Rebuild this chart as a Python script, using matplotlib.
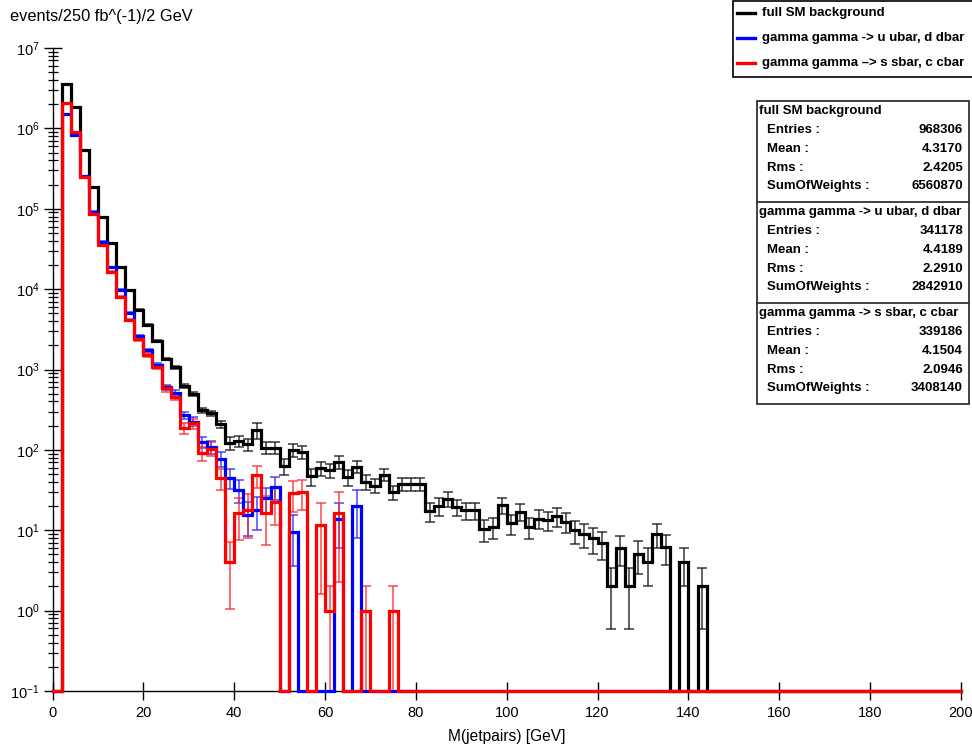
import numpy as np
import matplotlib
matplotlib.use('Agg')
import matplotlib.pyplot as plt
from matplotlib.patches import Rectangle
from matplotlib.lines import Line2D
from matplotlib.ticker import FixedLocator, NullLocator, MultipleLocator, NullFormatter, LogFormatterSciNotation

plt.rcParams['font.family'] = ['Liberation Sans', 'DejaVu Sans']
plt.rcParams['mathtext.fontset'] = 'custom'
plt.rcParams['mathtext.rm'] = 'Liberation Sans'
plt.rcParams['mathtext.it'] = 'Liberation Sans:italic'
plt.rcParams['mathtext.bf'] = 'Liberation Sans:bold'

# ---------------- data (2 GeV bins, first filled bin starts at 2 GeV) ----------------
x_min, x_max, n_bins = 0, 200, 100
first_edge = 2.0

sm_vals = [3.6e6, 1.85e6, 5.4e5, 1.87e5, 7.9e4, 3.7e4, 1.86e4, 9.7e3, 5.5e3, 3.6e3,
           2.25e3, 1.35e3, 1.06e3, 625, 495, 313, 284, 208, 123, 129,
           117, 176, 107, 106, 63, 100, 95, 47, 59, 56,
           71, 46, 62, 40, 36, 49, 29.5, 38, 38, 38,
           17.3, 20, 24.5, 19.6, 17.8, 17.8, 10.3, 11, 20.5, 12.2,
           17, 11, 14, 13.4, 15, 12.8, 10, 9.1, 7.9, 6.9,
           2.0, 6.0, 2.0, 5.1, 4.05, 9.0, 6.2, 0, 4.0, 0,
           2.0]
sm_errs = [3000, 2000, 1000, 600, 400, 250, 180, 120, 90, 70,
           55, 45, 40, 30, 27, 22, 22, 20, 22, 20,
           20, 38, 18, 18, 14, 18, 18, 11, 12, 11,
           13, 10, 11, 8, 7, 8, 6, 7, 7, 7,
           4.5, 5, 5, 4.5, 4.2, 4.2, 3.2, 3.3, 4.5, 3.5,
           4.1, 3.3, 3.7, 3.7, 3.9, 3.6, 3.2, 3.0, 2.8, 2.6,
           1.41, 2.45, 1.41, 2.26, 2.0, 3.0, 2.5, 0, 2.0, 0,
           1.41]

uu_vals = [1.49e6, 8.2e5, 2.57e5, 9.2e4, 3.9e4, 1.86e4, 9.7e3, 5.0e3, 2.6e3, 1.74e3,
           1.15e3, 600, 515, 270, 225, 126, 109, 77, 45, 32,
           15.5, 18, 25, 35, 0, 9.6, 0, 0, 0, 0,
           14, 0, 20]
uu_errs = [2500, 1800, 1000, 600, 400, 280, 200, 140, 100, 80,
           65, 45, 40, 30, 28, 20, 19, 16, 12, 10,
           7, 8, 9, 11, 0, 6, 0, 0, 0, 0,
           8, 0, 12]

ss_vals = [2.04e6, 9.1e5, 2.5e5, 8.7e4, 3.5e4, 1.64e4, 8.0e3, 4.1e3, 2.4e3, 1.5e3,
           1.08e3, 582, 460, 185, 214, 91, 104, 45, 4.05, 16.5,
           18, 48.6, 16.5, 22.6, 0, 28.8, 30, 0, 11.6, 1.0,
           16.3, 0, 0, 1.0, 0, 0, 1.0]
ss_errs = [3000, 2000, 1100, 650, 420, 290, 200, 140, 110, 85,
           70, 50, 45, 28, 30, 18, 20, 13, 3, 9,
           10, 15, 10, 11, 0, 12, 12, 0, 10, 1.0,
           14, 0, 0, 1.0, 0, 0, 1.0]

series_names = ["full SM background",
                "gamma gamma -> u ubar, d dbar",
                "gamma gamma -> s sbar, c cbar"]
legend_labels = ["full SM background",
                 "gamma gamma -> u ubar, d dbar",
                 "gamma gamma \u2013> s sbar, c cbar"]
series_colors = ["#000000", "#0000ff", "#ff0000"]
err_colors = ["#151515", "#2a2aff", "#ff2a2a"]

stats_entries = ["968306", "341178", "339186"]
stats_means = ["4.3170", "4.4189", "4.1504"]
stats_rms = ["2.4205", "2.2910", "2.0946"]
stats_sumw = ["6560870", "2842910", "3408140"]

y_title = "events/250 fb^(-1)/2 GeV"
x_title = "M(jetpairs) [GeV]"
y_min, y_max = 0.1, 1e7
y_decades = [-1, 0, 1, 2, 3, 4, 5, 6, 7]

# ---------------- figure ----------------
W, H = 972, 750
fig = plt.figure(figsize=(W / 100, H / 100), dpi=100)
fig.patch.set_facecolor('white')

def fx(px):
    return px / W

def fy(py):
    return 1 - py / H

ax_l, ax_r, ax_t, ax_b = 52.5, 961, 48, 691
ax = fig.add_axes([fx(ax_l), fy(ax_b), fx(ax_r - ax_l), (ax_b - ax_t) / H])
ax.set_facecolor('white')

edges = np.linspace(x_min, x_max, n_bins + 1)
centers = 0.5 * (edges[:-1] + edges[1:])
i0 = int(round((first_edge - x_min) / (edges[1] - edges[0])))

def full(arr):
    out = np.zeros(n_bins)
    out[i0:i0 + len(arr)] = arr
    return out

all_vals = [full(sm_vals), full(uu_vals), full(ss_vals)]
all_errs = [full(sm_errs), full(uu_errs), full(ss_errs)]

for vals, errs, col, ecol in zip(all_vals, all_errs, series_colors, err_colors):
    draw_vals = np.clip(vals, y_min, None)
    xs = np.concatenate([[edges[0]], np.repeat(edges, 2)[1:-1], [edges[-1]]])
    ys = np.concatenate([[y_min], np.repeat(draw_vals, 2), [y_min]])
    ax.plot(xs, ys, color=col, lw=2.3, clip_on=False, zorder=3, solid_joinstyle='miter')
    m = vals > 0
    lo = np.minimum(errs[m], vals[m] - y_min * 1.0001)
    ax.errorbar(centers[m], vals[m], yerr=[lo, errs[m]], fmt='none', ecolor=ecol,
                elinewidth=1.1, capsize=3.5, capthick=1.1, zorder=2, alpha=0.85)

ax.set_xlim(x_min, x_max)
ax.set_yscale('log')
ax.set_ylim(y_min, y_max)

for s in ['top', 'right']:
    ax.spines[s].set_visible(False)
for s in ['left', 'bottom']:
    ax.spines[s].set_linewidth(1.0)

ax.xaxis.set_major_locator(MultipleLocator(20))
ax.xaxis.set_minor_locator(NullLocator())
ax.yaxis.set_major_locator(FixedLocator([10.0 ** d for d in y_decades]))
ax.yaxis.set_major_formatter(LogFormatterSciNotation())
minor_y = [m * 10.0 ** d for d in y_decades[:-1] for m in range(2, 10)]
ax.yaxis.set_minor_locator(FixedLocator(minor_y))
ax.yaxis.set_minor_formatter(NullFormatter())
ax.tick_params(axis='both', which='major', direction='inout', length=13, width=1.0,
               labelsize=10.5, colors='black')
ax.tick_params(axis='y', which='minor', direction='inout', length=7, width=0.9)
ax.tick_params(axis='x', which='major', pad=4)
ax.tick_params(axis='y', which='major', pad=3)

fig.text(fx(10), fy(17), y_title, fontsize=11.8, ha='left', va='center')
fig.text(fx(507), fy(737), x_title, fontsize=11.2, ha='center', va='center')

# ---------------- legend box ----------------
leg_l, leg_t, leg_b = 733, 1, 77
fig.patches.append(Rectangle((fx(leg_l), fy(leg_b)), fx(W + 10 - leg_l), (leg_b - leg_t) / H,
                             transform=fig.transFigure, fill=True, facecolor='white',
                             edgecolor='black', lw=1.2, zorder=5))
row_y = [13, 38, 63]
for lab, col, yy in zip(legend_labels, series_colors, row_y):
    fig.lines.append(Line2D([fx(737), fx(755)], [fy(yy), fy(yy)], transform=fig.transFigure,
                            color=col, lw=2.4, zorder=6))
    fig.text(fx(762), fy(yy), lab, fontsize=9.5, fontweight='bold', ha='left', va='center',
             zorder=7)

# ---------------- stats box ----------------
st_l, st_r, st_t, st_b = 757, 969, 101, 404
fig.patches.append(Rectangle((fx(st_l), fy(st_b)), fx(st_r - st_l), (st_b - st_t) / H,
                             transform=fig.transFigure, fill=True, facecolor='white',
                             edgecolor='#333333', lw=1.3, zorder=5))
sec_h = (st_b - st_t) / 3
for k in range(1, 3):
    yy = st_t + k * sec_h
    fig.lines.append(Line2D([fx(st_l), fx(st_r)], [fy(yy), fy(yy)], transform=fig.transFigure,
                            color='#333333', lw=1.3, zorder=6))
row_labels = ["Entries :", "Mean :", "Rms :", "SumOfWeights :"]
for k, name in enumerate(series_names):
    top = st_t + k * sec_h
    fig.text(fx(759), fy(top + 10), name, fontsize=9.5, fontweight='bold', ha='left',
             va='center', zorder=7)
    vals_txt = [stats_entries[k], stats_means[k], stats_rms[k], stats_sumw[k]]
    for r, (lab, v) in enumerate(zip(row_labels, vals_txt)):
        yy = top + 29 + r * 18.8
        fig.text(fx(767), fy(yy), lab, fontsize=9.5, fontweight='bold', ha='left',
                 va='center', zorder=7)
        fig.text(fx(963), fy(yy), v, fontsize=9.5, fontweight='bold', ha='right',
                 va='center', zorder=7)

fig.savefig('out.png', dpi=100, facecolor='white')
